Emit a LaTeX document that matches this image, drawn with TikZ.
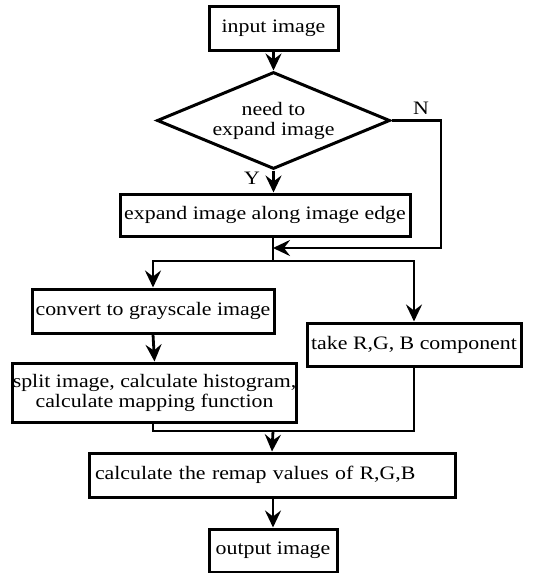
\documentclass[tikz,border=0pt]{standalone}
\usepackage{fontspec}
\setmainfont{Liberation Serif}[FakeStretch=1.15]
\usetikzlibrary{shapes.geometric,arrows.meta}

\begin{document}
\begin{tikzpicture}[x=1pt,y=1pt,
  box/.style={draw,line width=3pt,inner sep=0pt,align=center},
  decision/.style={draw,diamond,aspect=2.4,line width=3pt,inner sep=0pt,align=center},
  flow/.style={line width=2.8pt,-{Stealth[length=17pt,width=16pt,inset=6pt]}},
  link/.style={line width=2.8pt},
  font=\fontsize{19}{20}\selectfont]

\useasboundingbox (0,0) rectangle (540,-573);

\node[box,minimum width=129,minimum height=44] (in) at (273.5,-28) {input image};
\node[decision,minimum width=233,minimum height=97] (dec) at (273.5,-120.5) {need to\\expand image};
\node[box,minimum width=290,minimum height=42] (expand) at (265,-215) {expand image along image edge};
\node[box,minimum width=242,minimum height=44] (conv) at (153,-311) {convert to grayscale image};
\node[box,minimum width=214,minimum height=43] (take) at (414,-344.5) {take R,G, B component};
\node[box,minimum width=283,minimum height=59] (split) at (154.5,-392.5) {split image, calculate histogram,\\calculate mapping function};
\node[box,minimum width=366,minimum height=44,text width=354,inner xsep=6pt,align=left] (calc) at (272,-475) {calculate the remap values of R,G,B};
\node[box,minimum width=128,minimum height=43] (out) at (273,-550.5) {output image};

\coordinate (nc) at (441,-248);
\coordinate (j1) at (273,-248);
\coordinate (br) at (273,-261);
\coordinate (mg) at (273,-431);

\draw[flow] (in.south) -- (dec.north);
\draw[flow] (dec.south) -- (dec.south |- expand.north);
\draw[flow] (dec.east) -| (nc) -- (j1);
\draw[link] (expand.south -| br) -- (br);
\draw[flow] (br) -| (conv.north);
\draw[flow] (br) -| (take.north);
\draw[flow] (conv.south) -- (split.north);
\draw[link] (split.south -| conv.south) |- (mg);
\draw[link] (take.south) |- (mg);
\draw[flow] (mg) -- (calc.north);
\draw[flow] (calc.south -| mg) -- (out.north);

\node at (421,-108) {N};
\node at (252,-178) {Y};

\end{tikzpicture}
\end{document}
